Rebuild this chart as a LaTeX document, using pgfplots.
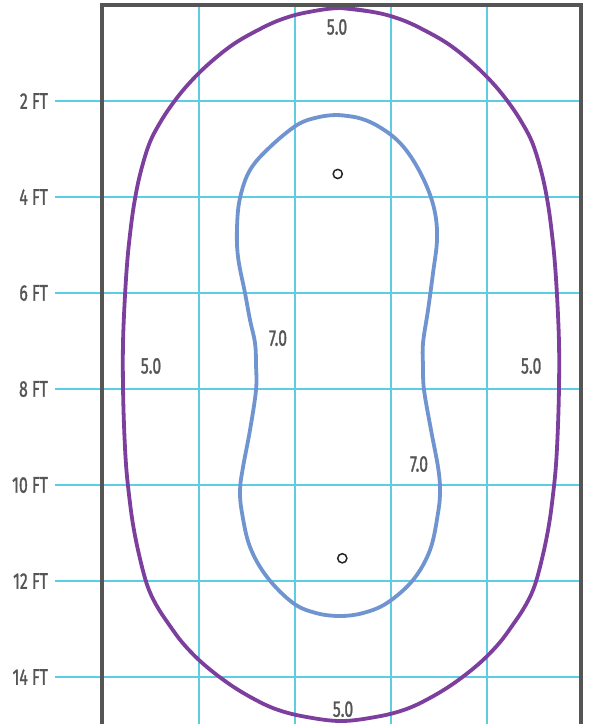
\documentclass[border=0pt]{standalone}
\usepackage{pgfplots}
\pgfplotsset{compat=1.18}
\usepackage{fontspec}
\setmainfont{Fira Sans}[FakeStretch=0.70, FakeBold=1.2]
\definecolor{gridc}{HTML}{5CCDE3}
\definecolor{outerc}{HTML}{7D3F9E}
\definecolor{innerc}{HTML}{7094D0}
\definecolor{boxc}{HTML}{555555}
\definecolor{txt}{HTML}{555555}
\begin{document}
\begin{tikzpicture}
\begin{axis}[
  scale only axis, width=239.5pt, height=360pt,
  xmin=-0.021, xmax=9.958, ymin=0, ymax=15, y dir=reverse,
  clip=false,
  axis line style={draw=none},
  xtick={2,4,6,8}, xticklabel=\empty, xtick style={draw=none},
  ytick={2,4,6,8,10,12,14},
  yticklabels={2 FT,4 FT,6 FT,8 FT,10 FT,12 FT,14 FT},
  ytick pos=left, tick align=outside, major tick length=23.5pt,
  ytick style={gridc, line width=0.6pt},
  grid=major, major grid style={gridc, line width=0.6pt},
  yticklabel style={font=\fontsize{11.3}{12}\selectfont, text=txt},
  /pgf/number format/assume math mode=true,
]
\addplot[outerc, line width=1.9pt, smooth, tension=0.6] coordinates {
(4.958,0.063)
(5.687,0.157) (6.208,0.3025) (6.666,0.511) (7.208,0.823) (7.729,1.24) (8.146,1.657)
(8.479,2.073) (8.75,2.49) (8.958,2.907) (9.146,3.532) (9.271,4.157) (9.354,4.782)
(9.416,5.407) (9.468,6.24) (9.5,7.073)
(9.5,7.907) (9.479,8.74) (9.437,9.573) (9.375,10.198) (9.291,10.823) (9.166,11.448)
(9.0,12.073) (8.812,12.49) (8.541,12.907) (8.229,13.323) (7.812,13.74) (7.271,14.157)
(6.75,14.469) (6.291,14.678) (5.729,14.823)
(4.958,14.917)
(4.187,14.823) (3.625,14.678) (3.166,14.469) (2.646,14.157) (2.104,13.74) (1.687,13.323)
(1.375,12.907) (1.104,12.49) (0.916,12.073) (0.75,11.448) (0.625,10.823) (0.541,10.198)
(0.479,9.573) (0.437,8.74) (0.416,7.907)
(0.416,7.073) (0.448,6.24) (0.5,5.407) (0.562,4.782) (0.646,4.157) (0.771,3.532)
(0.958,2.907) (1.166,2.49) (1.437,2.073) (1.771,1.657) (2.187,1.24) (2.708,0.823)
(3.25,0.511) (3.708,0.3025) (4.229,0.157) (4.958,0.063) (5.687,0.157)
};
\addplot[innerc, line width=1.9pt, smooth, tension=0.6] coordinates {
(4.875,2.292) (5.292,2.344) (5.6875,2.5) (6.125,2.8125) (6.458,3.229) (6.75,3.792)
(6.917,4.333) (6.958,4.896) (6.875,5.583) (6.771,6.354) (6.667,7.042) (6.667,7.542)
(6.6875,8.021) (6.833,8.854) (6.979,9.625) (7.021,10.104) (6.979,10.583) (6.8125,11.354)
(6.458,11.979) (5.917,12.458) (5.417,12.667) (4.9375,12.729) (4.4375,12.667) (3.958,12.458)
(3.417,11.917) (3.0625,11.292) (2.896,10.583) (2.854,10.104) (2.917,9.625) (3.0625,8.854)
(3.1875,8.021) (3.1875,7.5) (3.167,7.042) (3.0625,6.5625) (2.958,6.0) (2.8125,5.25)
(2.792,4.625) (2.854,4.021) (3.0625,3.4375) (3.479,2.958) (4.042,2.5) (4.458,2.344)
(4.875,2.292) (5.292,2.344)
};
\addplot[only marks, mark=o, mark size=2.3pt, black!85, mark options={line width=0.75pt}]
  coordinates {(4.89,3.52) (4.985,11.527)};
\draw[boxc, line width=1.9pt] (axis cs:-0.021,15.2) -- (axis cs:-0.021,0) -- (axis cs:9.958,0) -- (axis cs:9.958,15.2);
\begin{scope}[every node/.style={text=txt, font=\fontsize{11.3}{12}\selectfont, inner sep=0pt}]
\node at (axis cs:4.875,0.458) {5.0};
\node at (axis cs:5.0,14.67) {5.0};
\node at (axis cs:1.0,7.52) {5.0};
\node at (axis cs:8.92,7.52) {5.0};
\node at (axis cs:3.646,6.94) {7.0};
\node at (axis cs:6.583,9.5625) {7.0};
\end{scope}
\coordinate (bbA) at (axis cs:-2.146,14.979);
\coordinate (bbB) at (axis cs:10.167,-0.104);
\end{axis}
\pgfresetboundingbox
\useasboundingbox (bbA) rectangle (bbB);
\end{tikzpicture}
\end{document}
